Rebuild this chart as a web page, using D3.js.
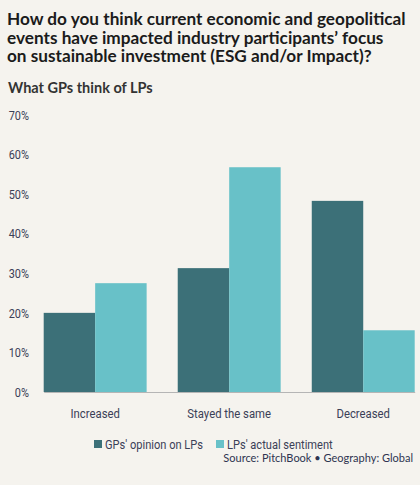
<!DOCTYPE html>
<html><head><meta charset="utf-8">
<script src="https://cdn.jsdelivr.net/npm/d3@7"></script>
<style>
html,body{margin:0;padding:0;background:#f5f3ee;}
svg{display:block;}
</style></head>
<body>
<svg id="c" width="420" height="485"></svg>
<script>
const categories = ["Increased", "Stayed the same", "Decreased"];
const seriesNames = ["GPs' opinion on LPs", "LPs' actual sentiment"];
const gpsOpinion = [20, 31.3, 48.3];
const lpsSentiment = [27.5, 56.8, 15.6];
const yTicks = [0, 10, 20, 30, 40, 50, 60, 70];
const titleLines = ["How do you think current economic and geopolitical",
  "events have impacted industry participants\u2019 focus",
  "on sustainable investment (ESG and/or Impact)?"];
const subtitle = "What GPs think of LPs";
const source = "Source: PitchBook \u2022 Geography: Global";
const colors = ["#3c7078", "#68c1c8"];

const svg = d3.select("#c");
svg.append("rect").attr("width",420).attr("height",485).attr("fill","#f5f3ee");

const titleFont = "Lato, 'Open Sans', sans-serif";
const tG = svg.append("g");
titleLines.forEach((t,i)=>{
  tG.append("text").attr("x",7).attr("y",25+i*18.5).text(t)
    .attr("font-family",titleFont).attr("font-weight",700).attr("font-size",17.2)
    .attr("fill","#1b1b1b");
});
svg.append("text").attr("x",8).attr("y",93).text(subtitle)
  .attr("font-family",titleFont).attr("font-weight",700).attr("font-size",14.5)
  .attr("fill","#333333");

const labelFont = "Roboto, 'Noto Sans', sans-serif";
const labelColor = "#3b4057";
const squeeze = "scale(0.84,1)";

const x0 = d3.scaleBand().domain(categories).range([43.7, 414.7]).paddingInner(0.232).paddingOuter(0);
const x1 = d3.scaleBand().domain([0,1]).range([0, x0.bandwidth()]);
const y = d3.scaleLinear().domain([0,70]).range([392,115]);

const yAxis = d3.axisLeft(y).tickValues(yTicks).tickFormat(d=>d+"%").tickSize(0).tickPadding(0);
const yg = svg.append("g").attr("transform","translate(29,0)").call(yAxis);
yg.select(".domain").remove();
yg.selectAll("text").attr("font-family",labelFont).attr("font-size",13).attr("fill",labelColor)
  .attr("transform",squeeze);

const data = categories.map((c,i)=>({c, v:[gpsOpinion[i], lpsSentiment[i]]}));
const g = svg.append("g");
const grp = g.selectAll("g").data(data).join("g").attr("transform",d=>`translate(${x0(d.c)},0)`);
grp.selectAll("rect").data(d=>d.v.map((v,k)=>({v,k}))).join("rect")
  .attr("x",d=>x1(d.k)).attr("width",x1.bandwidth())
  .attr("y",d=>y(d.v)).attr("height",d=>y(0)-y(d.v))
  .attr("fill",d=>colors[d.k]);

const xAxis = d3.axisBottom(x0).tickSize(0).tickPadding(0);
const xg = svg.append("g").attr("transform","translate(0,392)").call(xAxis);
xg.select(".domain").attr("stroke","#b5b5b5").attr("stroke-width",1);
xg.selectAll("text").attr("dy",0).attr("y",26).attr("font-family",labelFont).attr("font-size",13.5).attr("fill",labelColor)
  .attr("transform",squeeze);

const leg = svg.append("g");
const legX = [94, 216];
seriesNames.forEach((n,i)=>{
  leg.append("rect").attr("x",legX[i]).attr("y",440).attr("width",8).attr("height",8).attr("fill",colors[i]);
  leg.append("g").attr("transform",`translate(${legX[i]+11},448.5)`)
    .append("text").attr("transform",squeeze).text(n)
    .attr("font-family",labelFont).attr("font-size",13.2).attr("fill",labelColor);
});

svg.append("text").attr("x",413).attr("y",462).attr("text-anchor","end").text(source)
  .attr("font-family",titleFont).attr("font-size",11).attr("fill","#2e3450");
</script>
</body></html>
